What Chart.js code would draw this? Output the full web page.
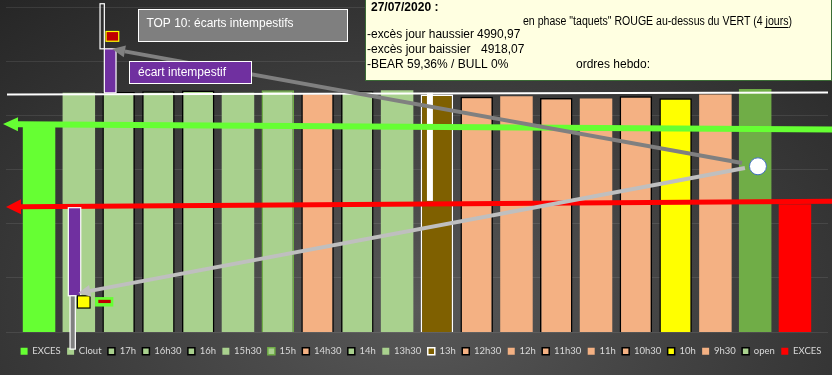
<!DOCTYPE html>
<html lang="fr">
<head>
<meta charset="utf-8">
<script src="https://cdn.jsdelivr.net/npm/chart.js@4.4.0/dist/chart.umd.min.js"></script>
<style>
  html, body { margin: 0; padding: 0; }
  body {
    width: 832px; height: 375px; overflow: hidden;
    background: radial-gradient(ellipse 75% 110% at 50% 82%, #585858 0%, #3c3c3c 55%, #262626 100%);
  }
</style>
</head>
<body>
<canvas id="graphe" width="832" height="375"></canvas>
<script>
// Séries du graphique (une barre par série, comme dans Excel)
const series = ['EXCES', 'Clout', '17h', '16h30', '16h', '15h30', '15h', '14h30', '14h', '13h30',
                '13h', '12h30', '12h', '11h30', '11h', '10h30', '10h', '9h30', 'open', 'EXCES'];
const valeurs = [4990.97, 5020.8, 5021.6, 5022.2, 5022.9, 5020.8, 5023.2, 5020.8, 5022.2, 5023.2,
                 5019.2, 5017.1, 5017.6, 5016.1, 5015.5, 5017.6, 5015.8, 5019.2, 5024.4, 4918.07];
const fonds = ['#66ff33', '#a9d18e', '#a9d18e', '#a9d18e', '#a9d18e', '#a9d18e', '#a9d18e', '#f4b183', '#a9d18e', '#a9d18e',
               '#7f6000', '#f4b183', '#f4b183', '#f4b183', '#f4b183', '#f4b183', '#ffff00', '#f4b183', '#70ad47', '#ff0000'];
const bordures = [null, null, '#000', '#000', '#000', null, '#70ad47', '#000', '#000', null,
                  '#fff', '#000', null, '#000', null, '#000', '#000', null, null, null];
const axeY = { min: 4800, max: 5100, pas: 50 };

// Repères horizontaux : [valeur à gauche, valeur à droite]
const ligneBlanche = [5019.3, 5021.0];
const flecheVerte = [4992.0, 4987.0];
const flecheRouge = [4915.5, 4920.8];

// Flèches grises : [position en barres, valeur] départ puis pointe
const flecheGrisFonce = [[17.667, 4956.1], [1.835, 5061.2]];
const flecheGrisClair = [[17.743, 4951.5], [0.988, 4836.0]];
const cercle = [18.07, 4953.0];

// Rectangles des écarts : [barre gauche, barre droite, valeur haute, valeur basse]
const ecartHautMeche = [1.533, 1.641, 5103.0, 5061.4];
const ecartHautCorps = [1.641, 1.935, 5061.4, 5020.8];
const ecartHautRepere = [1.684, 2.003, 5077.4, 5068.4];
const ecartBasCorps = [0.736, 1.048, 4914.8, 4833.5];
const ecartBasMeche = [0.779, 0.912, 4833.5, 4784.3];
const ecartBasJaune = [0.963, 1.282, 4833.5, 4822.2];
const ecartBasVert = [1.407, 1.867, 4832.3, 4823.6];
const ecartBasRouge = [1.490, 1.802, 4829.8, 4826.8];
const barre13hBlanche = [9.75, 9.90, 5020.8, 4921.1];

const virgule = v => v.toFixed(2).replace('.', ',');
const police = 'Liberation Sans, Arial, sans-serif';

function fleche(ctx, xa, ya, xb, yb, couleur, epaisseur, longueur, demi) {
    const ang = Math.atan2(yb - ya, xb - xa);
    const xc = xb - longueur * Math.cos(ang), yc = yb - longueur * Math.sin(ang);
    ctx.strokeStyle = couleur;
    ctx.lineWidth = epaisseur;
    ctx.beginPath(); ctx.moveTo(xa, ya); ctx.lineTo(xc, yc); ctx.stroke();
    ctx.fillStyle = couleur;
    ctx.beginPath();
    ctx.moveTo(xb, yb);
    ctx.lineTo(xc + demi * Math.sin(ang), yc - demi * Math.cos(ang));
    ctx.lineTo(xc - demi * Math.sin(ang), yc + demi * Math.cos(ang));
    ctx.closePath(); ctx.fill();
}

// Dessine tout ce qu'Excel avait posé par-dessus les barres
const surcouche = {
    id: 'surcouche',
    afterLayout(chart) {
        // légende un peu décalée vers la droite comme dans l'original
        chart.legend.left += 4;
        chart.legend.right += 4;
    },
    afterDatasetsDraw(chart) {
        const { ctx, chartArea, scales: { y } } = chart;
        const x0 = chart.getDatasetMeta(0).data[0].x;
        const x1 = chart.getDatasetMeta(series.length - 1).data[0].x;
        const pas = (x1 - x0) / (series.length - 1);
        const px = s => x0 + s * pas;
        const py = v => y.getPixelForValue(v);
        const rect = (r, fond, trait, lw) => {
            const xa = px(r[0]), xb = px(r[1]), ya = py(r[2]), yb = py(r[3]);
            if (fond) { ctx.fillStyle = fond; ctx.fillRect(xa, ya, xb - xa, yb - ya); }
            if (trait) { ctx.strokeStyle = trait; ctx.lineWidth = lw || 1; ctx.strokeRect(xa, ya, xb - xa, yb - ya); }
        };
        ctx.save();

        rect(barre13hBlanche, '#ffffff');

        // ligne blanche
        ctx.strokeStyle = '#ffffff';
        ctx.lineWidth = 2;
        ctx.beginPath();
        ctx.moveTo(chartArea.left + 1, py(ligneBlanche[0]));
        ctx.lineTo(chartArea.right, py(ligneBlanche[1]));
        ctx.stroke();

        // flèches verte et rouge
        fleche(ctx, chart.width, py(flecheVerte[1]), chartArea.left - 3, py(flecheVerte[0]), '#66ff33', 6, 15, 7);
        fleche(ctx, chart.width, py(flecheRouge[1]), chartArea.left, py(flecheRouge[0]), '#ff0000', 5, 15, 7.5);

        // écart du haut
        rect(ecartHautMeche, null, '#ffffff', 1.2);
        rect(ecartHautCorps, '#7030a0', '#ffffff', 1.2);
        rect(ecartHautRepere, '#c00000', '#ffff00', 1.2);

        // écart du bas
        rect(ecartBasCorps, '#7030a0', '#ffffff', 1.2);
        rect(ecartBasMeche, '#808080', '#ffffff', 1.2);
        rect(ecartBasJaune, '#ffff00', '#000000', 1.2);
        rect(ecartBasVert, '#66ff33');
        rect(ecartBasRouge, '#c00000');

        // flèches grises
        fleche(ctx, px(flecheGrisFonce[0][0]), py(flecheGrisFonce[0][1]), px(flecheGrisFonce[1][0]), py(flecheGrisFonce[1][1]), '#808080', 4, 13, 6);
        fleche(ctx, px(flecheGrisClair[0][0]), py(flecheGrisClair[0][1]), px(flecheGrisClair[1][0]), py(flecheGrisClair[1][1]), '#bfbfbf', 4, 12, 6);

        ctx.beginPath();
        ctx.arc(px(cercle[0]), py(cercle[1]), 8.5, 0, Math.PI * 2);
        ctx.fillStyle = '#ffffff'; ctx.fill();
        ctx.strokeStyle = '#4472c4'; ctx.lineWidth = 1; ctx.stroke();

        // encadrés de texte
        ctx.textBaseline = 'middle';
        ctx.font = '12px ' + police;
        ctx.fillStyle = '#7f7f7f'; ctx.fillRect(138.5, 9.5, 209, 32);
        ctx.strokeStyle = '#ffffff'; ctx.lineWidth = 1; ctx.strokeRect(138.5, 9.5, 209, 32);
        ctx.fillStyle = '#ffffff'; ctx.fillText('TOP 10: écarts intempestifs', 146.5, 24, 147);

        ctx.fillStyle = '#7030a0'; ctx.fillRect(129.5, 61.5, 122, 22);
        ctx.strokeRect(129.5, 61.5, 122, 22);
        ctx.fillStyle = '#ffffff'; ctx.fillText('écart intempestif', 138, 72.5, 92);

        ctx.fillStyle = '#ffffe1'; ctx.fillRect(365.5, -1, 466, 81.5);
        ctx.strokeStyle = '#3a6b35'; ctx.strokeRect(365.5, -1, 466, 81.5);
        ctx.fillStyle = '#000000';
        ctx.font = 'bold 12px ' + police;
        ctx.fillText('27/07/2020 :', 371, 7.5);
        ctx.font = '12px ' + police;
        const phase = 'en phase "taquets" ROUGE au-dessus du VERT (4';
        const ligne = phase + ' jours)';
        const largeur = 269;
        const k = Math.min(1, largeur / ctx.measureText(ligne).width);
        ctx.fillText(ligne, 523, 21.5, largeur);
        const debut = 523 + k * ctx.measureText(phase).width;
        const fin = 523 + k * ctx.measureText(phase + ' jours').width;
        ctx.fillRect(debut + 2, 27, fin - debut - 2, 1);
        ctx.fillText('-excès jour haussier', 367, 34.5, 107);
        ctx.fillText(virgule(valeurs[0]), 477, 34.5);
        ctx.fillText('-excès jour baissier', 367, 49.5, 107);
        ctx.fillText(virgule(valeurs[valeurs.length - 1]), 481, 49.5);
        ctx.fillText('-BEAR 59,36% / BULL 0%', 367, 64.5);
        ctx.fillText('ordres hebdo:', 576, 64.5);

        ctx.restore();
    }
};

new Chart(document.getElementById('graphe'), {
    type: 'bar',
    data: {
        labels: ['27/07/2020'],
        datasets: series.map((nom, i) => ({
            label: nom,
            data: [valeurs[i]],
            backgroundColor: fonds[i],
            borderColor: bordures[i] || fonds[i],
            borderWidth: bordures[i] ? 1.5 : 0,
            borderSkipped: false
        }))
    },
    options: {
        responsive: false,
        animation: false,
        devicePixelRatio: 1,
        layout: { padding: { left: 6, right: 4, top: 7, bottom: 9 } },
        datasets: { bar: { categoryPercentage: 0.968, barPercentage: 0.817 } },
        scales: {
            x: {
                ticks: { display: false },
                border: { display: false },
                grid: { drawOnChartArea: false, drawTicks: true, tickLength: 8, color: 'transparent' }
            },
            y: {
                min: axeY.min, max: axeY.max,
                ticks: { display: false, stepSize: axeY.pas },
                border: { display: false },
                grid: { color: 'rgba(255,255,255,0.09)', drawTicks: false }
            }
        },
        plugins: {
            tooltip: { enabled: false },
            legend: {
                position: 'bottom',
                labels: {
                    color: '#d9d9d9',
                    font: { family: 'Lato', size: 9.5 },
                    boxWidth: 7, boxHeight: 7, padding: 6.4,
                    generateLabels(chart) {
                        const items = Chart.defaults.plugins.legend.labels.generateLabels(chart);
                        // la légende de "open" garde l'ancien style
                        items[18].fillStyle = '#a9d18e';
                        items[18].strokeStyle = '#000';
                        items[18].lineWidth = 1.5;
                        return items;
                    }
                }
            }
        }
    },
    plugins: [surcouche]
});
</script>
</body>
</html>
